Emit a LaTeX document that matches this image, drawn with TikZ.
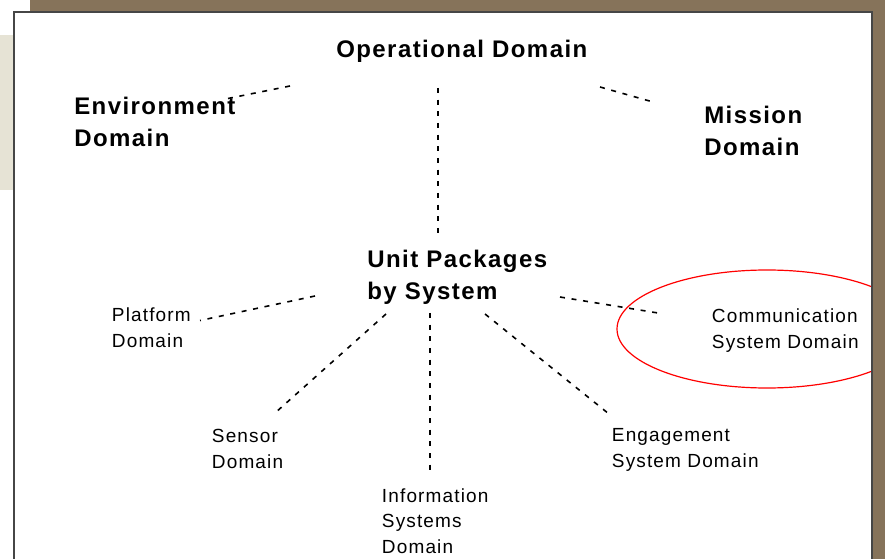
\documentclass[tikz,border=0pt]{standalone}
\usepackage{fontspec}
\setmainfont{Liberation Sans}[LetterSpace=6]
\definecolor{frame}{RGB}{134,115,90}
\definecolor{strip}{RGB}{230,227,213}
\definecolor{edge}{RGB}{70,70,70}
\newcommand\txtlines[1]{\begin{tabular}[t]{@{}l@{}}#1\end{tabular}}
\begin{document}
\begin{tikzpicture}[x=0.75pt,y=-0.75pt,
  big/.style={anchor=base west, inner sep=0pt, font=\fontsize{18}{24}\selectfont\bfseries},
  small/.style={anchor=base west, inner sep=0pt, font=\fontsize{14.25}{19.25}\selectfont},
  link/.style={line width=1.2pt, dash pattern=on 3.75pt off 5pt},
  focus/.style={draw=red, line width=0.9pt}]
% page and surroundings
\fill[white] (0,0) rectangle (885,559);
\useasboundingbox (0,0) rectangle (885,559);
\fill[strip] (0,35) rectangle (14,190);
\fill[frame] (30,0) rectangle (885,12);
\fill[frame] (872,0) rectangle (885,559);
% slide panel
\fill[white] (13.5,12) rectangle (872,559);

% labels
\node[big] (oper) at (336,57.5) {Operational Domain};
\node[big] (env) at (74,115) {\txtlines{Environment\\Domain}};
\node[big] (mis) at (704,124) {\txtlines{Mission\\Domain}};
\node[big] (unit) at (367,268) {\txtlines{Unit Packages\\by System}};
\node[small] (plat) at (111.7,321.7) {\txtlines{Platform\\Domain}};
\node[small] (comm) at (711.7,322.7) {\txtlines{Communication\\System Domain}};
\node[small] (sens) at (211.7,442.7) {\txtlines{Sensor\\Domain}};
\node[small] (info) at (381.7,502.3) {\txtlines{Information\\Systems\\Domain}};
\node[small] (eng) at (611.7,441.7) {\txtlines{Engagement\\System Domain}};

% connector ends
\coordinate (o-s) at (438,88);
\coordinate (u-n) at (438,233);
\coordinate (o-w) at (290,86);
\coordinate (env-e) at (228,98.5);
\coordinate (o-e) at (600,87);
\coordinate (mis-w) at (653,102);
\coordinate (u-w) at (315,296);
\coordinate (plat-e) at (200,320.5);
\coordinate (u-sw) at (386,314);
\coordinate (sens-n) at (275,413);
\coordinate (u-s) at (430,313);
\coordinate (info-n) at (430,472);
\coordinate (u-se) at (485,314);
\coordinate (eng-n) at (609,414);
\coordinate (u-e) at (560,297);
\coordinate (comm-w) at (661,313.5);

% connectors
\draw[link] (o-s) -- (u-n);
\draw[link] (o-w) -- (env-e);
\draw[link] (o-e) -- (mis-w);
\draw[link] (u-w) -- (plat-e);
\draw[link] (u-sw) -- (sens-n);
\draw[link] (u-s) -- (info-n);
\draw[link] (u-se) -- (eng-n);
\draw[link] (u-e) -- (comm-w);

% highlight round the communication domain
\begin{scope}
  \clip (0,0) rectangle (872,559);
  \draw[focus] (767,329) ellipse [x radius=150, y radius=59];
\end{scope}

% panel border
\draw[edge, line width=0.9pt] (14,559) -- (14,12) -- (872,12) -- (872,559);
\end{tikzpicture}
\end{document}
